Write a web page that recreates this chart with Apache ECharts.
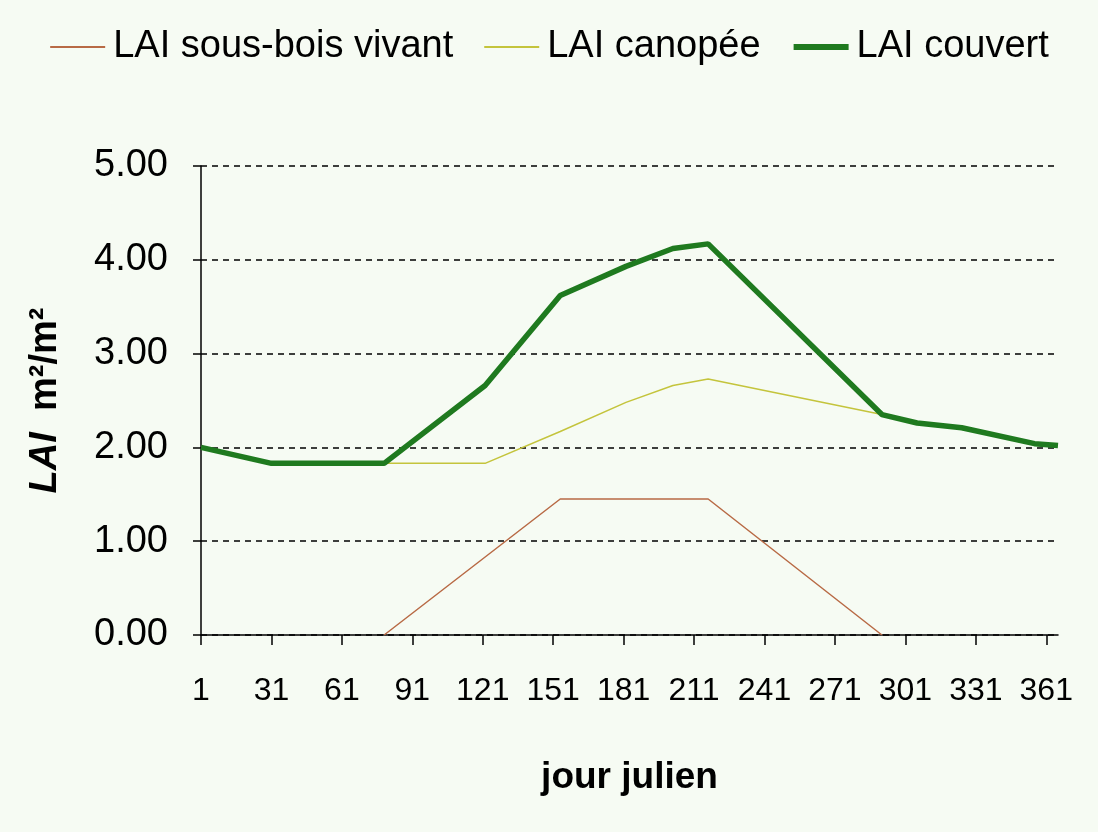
<!DOCTYPE html>
<html>
<head>
<meta charset="utf-8">
<title>LAI</title>
<script src="https://cdn.jsdelivr.net/npm/echarts@6/dist/echarts.min.js"></script>
<style>
  html, body { margin: 0; padding: 0; background: #f6fbf3; }
  #chart { width: 1098px; height: 832px; }
</style>
</head>
<body>
<div id="chart"></div>
<script>
// Julian days of the year (category axis)
const dayCount = 366;
const days = [];
for (let d = 1; d <= dayCount; d++) days.push(String(d));

// Understory (living) LAI breakpoints
const understoryDays = [79, 154, 217, 291];
const understoryLAI  = [0.00, 1.45, 1.45, 0.00];

// Canopy LAI breakpoints
const canopyDays = [1, 31, 122, 154, 182, 202, 217, 291, 306, 325, 356, 366];
const canopyLAI  = [2.00, 1.83, 1.83, 2.17, 2.48, 2.66, 2.73, 2.35, 2.26, 2.21, 2.04, 2.02];

// Total cover LAI breakpoints
const coverDays = [1, 31, 79, 122, 154, 182, 202, 217, 291, 306, 325, 356, 366];
const coverLAI  = [2.00, 1.83, 1.83, 2.66, 3.62, 3.93, 4.12, 4.17, 2.35, 2.26, 2.21, 2.04, 2.02];

const seriesNames = ['LAI sous-bois vivant', 'LAI canopée', 'LAI couvert'];
const seriesColors = ['#b86a45', '#c4c43c', '#1f7a1f'];
const seriesWidths = [1.5, 1.5, 5.5];

function pairs(xs, ys) {
  return xs.map((x, i) => [String(x), ys[i]]);
}

const sans = '"Liberation Sans", Arial, sans-serif';
const chart = echarts.init(document.getElementById('chart'));

chart.setOption({
  backgroundColor: '#f6fbf3',
  animation: false,
  legend: {
    top: 23,
    left: 'center',
    itemWidth: 55,
    itemHeight: 14,
    itemGap: 30,
    itemStyle: { opacity: 0 },
    textStyle: { fontFamily: sans, fontSize: 38, color: '#000', padding: [0, 0, 0, 3] },
    data: seriesNames.map((n, i) => ({
      name: n,
      lineStyle: { color: seriesColors[i], width: seriesWidths[i] === 1.5 ? 2 : 6 }
    }))
  },
  grid: { left: 201, right: 40, top: 166, bottom: 197, containLabel: false },
  xAxis: {
    type: 'category',
    data: days,
    boundaryGap: false,
    name: 'jour julien',
    nameLocation: 'middle',
    nameGap: 124,
    nameTextStyle: { fontFamily: sans, fontWeight: 'bold', fontSize: 37, color: '#000' },
    axisLine: { lineStyle: { color: '#000', width: 1.5 } },
    axisTick: { show: true, interval: 29, length: 10, lineStyle: { color: '#000', width: 1.5 } },
    axisLabel: { interval: 29, margin: 40, fontFamily: sans, fontSize: 32, color: '#000' },
    splitLine: { show: false }
  },
  yAxis: {
    type: 'value',
    min: 0,
    max: 5,
    interval: 1,
    name: '{i|LAI}{b|  m²/m²}',
    nameLocation: 'middle',
    nameGap: 136,
    nameRotate: 90,
    nameTextStyle: {
      rich: {
        i: { fontFamily: sans, fontStyle: 'italic', fontWeight: 'bold', fontSize: 38, color: '#000' },
        b: { fontFamily: sans, fontWeight: 'bold', fontSize: 38, color: '#000' }
      }
    },
    axisLine: { show: true, lineStyle: { color: '#000', width: 1.5 } },
    axisTick: { show: true, length: 8, lineStyle: { color: '#000', width: 1.5 } },
    axisLabel: { margin: 33, fontFamily: sans, fontSize: 38, color: '#000', formatter: v => v.toFixed(2) },
    splitLine: { show: true, lineStyle: { color: '#000', width: 1.5, type: [6, 5] } }
  },
  series: [
    {
      name: seriesNames[0],
      type: 'line',
      symbol: 'none',
      data: pairs(understoryDays, understoryLAI),
      lineStyle: { color: seriesColors[0], width: seriesWidths[0] },
      itemStyle: { color: seriesColors[0] }
    },
    {
      name: seriesNames[1],
      type: 'line',
      symbol: 'none',
      data: pairs(canopyDays, canopyLAI),
      lineStyle: { color: seriesColors[1], width: seriesWidths[1] },
      itemStyle: { color: seriesColors[1] }
    },
    {
      name: seriesNames[2],
      type: 'line',
      symbol: 'none',
      data: pairs(coverDays, coverLAI),
      lineStyle: { color: seriesColors[2], width: seriesWidths[2] },
      itemStyle: { color: seriesColors[2] }
    }
  ]
});
</script>
</body>
</html>
